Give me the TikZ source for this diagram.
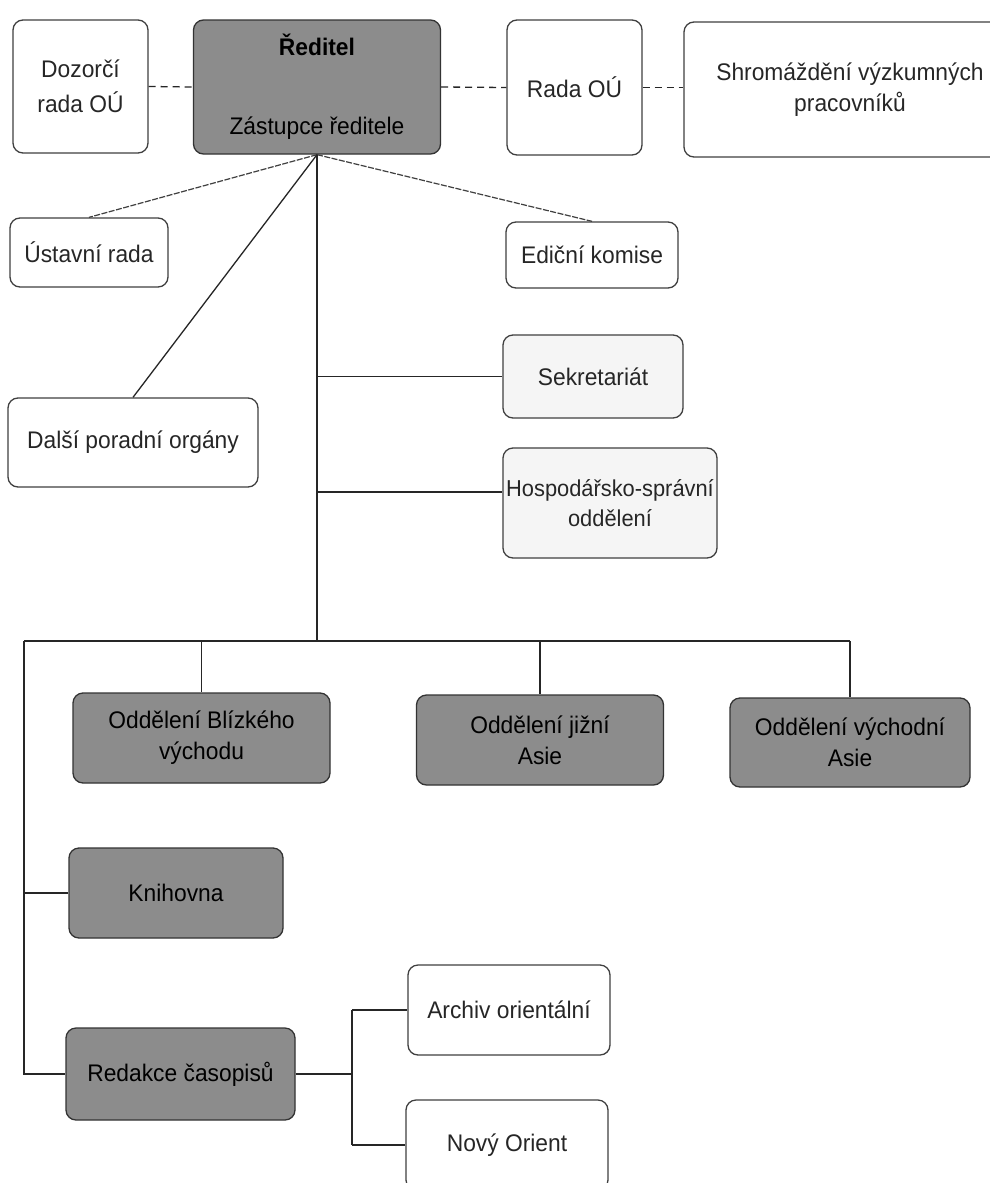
\documentclass[tikz,border=0pt]{standalone}
\usepackage{fontspec}
\setmainfont{Liberation Sans}[FakeStretch=0.95]
\usetikzlibrary{calc}
\begin{document}
\begin{tikzpicture}[x=1pt,y=-1pt,
  box/.style={draw=black!75, line width=1.3pt, rounded corners=10pt, fill=white, align=center,
    inner sep=0pt, font=\fontsize{24}{31}\selectfont, text=black!85},
  dark/.style={box, fill=black!45, draw=black!80, text=black},
  light/.style={box, fill=black!4},
  link/.style={line width=1.3pt, draw=black!85},
  dlink/.style={link, dash pattern=on 7pt off 5pt},
  flink/.style={link, line width=1.2pt, draw=black!75, dash pattern=on 6pt off 1.5pt}
]
\path[use as bounding box, fill=white] (0,0) rectangle (990,1183);
\clip (0,0) rectangle (990,1183);

% top row
\node[box, minimum width=135pt, minimum height=133pt] (doz) at (80.5,86.5) {Dozorčí\\[4pt]rada OÚ};
\node[dark, minimum width=247pt, minimum height=134pt] (red) at (317,87) {\textbf{Ředitel}\\[48pt]Zástupce ředitele};
\node[box, minimum width=135pt, minimum height=135pt] (rada) at (574.5,87.5) {Rada OÚ};
\node[box, minimum width=332pt, minimum height=135pt] (shrom) at (850,89.5) {Shromáždění výzkumných\\pracovníků};

% advisory
\node[box, minimum width=158pt, minimum height=69pt] (ust) at (89,252.5) {Ústavní rada};
\node[box, minimum width=172pt, minimum height=66pt] (edic) at (592,255) {Ediční komise};
\node[box, minimum width=250pt, minimum height=89pt] (dalsi) at (133,442.5) {Další poradní orgány};
\node[light, minimum width=180pt, minimum height=83pt] (sekr) at (593,376.5) {Sekretariát};
\node[light, minimum width=214pt, minimum height=110pt, font=\fontsize{23}{30}\selectfont] (hosp) at (610,503) {Hospodářsko-správní\\oddělení};

% departments
\node[dark, minimum width=257pt, minimum height=90pt] (blz) at (201.5,738) {Oddělení Blízkého\\východu};
\node[dark, minimum width=247pt, minimum height=90pt] (jiz) at (540,740) {Oddělení jižní\\Asie};
\node[dark, minimum width=240pt, minimum height=89pt] (vych) at (850,742.5) {Oddělení východní\\Asie};
\node[dark, minimum width=214pt, minimum height=90pt] (knih) at (176,893) {Knihovna};
\node[dark, minimum width=229pt, minimum height=92pt] (redk) at (180.5,1074) {Redakce časopisů};
\node[box, minimum width=202pt, minimum height=90pt] (arch) at (509,1010) {Archiv orientální};
\node[box, minimum width=202pt, minimum height=90pt] (novy) at (507,1145) {Nový Orient};

% dashed top links
\draw[dlink] (doz.east) -- (red.west);
\draw[dlink] (red.east) -- (rada.west);
\draw[dlink] (rada.east) -- (rada.east -| shrom.west);

% fan from director
\draw[flink] (red.south) -- (ust.north);
\draw[flink] (red.south) -- (edic.north);
\draw[link] (red.south) -- (dalsi.north);

% trunk and bus
\coordinate (busL) at (24,641);
\coordinate (bus) at (red.south |- busL);
\draw[link] (red.south) -- (bus);
\draw[link] (red.south |- sekr.west) -- (sekr.west);
\coordinate (hj) at (red.south |- 0,492);
\draw[link] (hj) -- (hj -| hosp.west);
\draw[link] (busL) -- (busL -| vych.north);
\draw[link] (blz.north |- busL) -- (blz.north);
\draw[link] (jiz.north |- busL) -- (jiz.north);
\draw[link] (vych.north |- busL) -- (vych.north);
\draw[link] (busL) -- (busL |- redk.west) -- (redk.west);
\draw[link] (busL |- knih.west) -- (knih.west);

% journals
\coordinate (rj) at (352,0);
\draw[link] (redk.east) -- (rj |- redk.east);
\draw[link] (rj |- arch.west) -- (rj |- novy.west);
\draw[link] (rj |- arch.west) -- (arch.west);
\draw[link] (rj |- novy.west) -- (novy.west);
\end{tikzpicture}
\end{document}
